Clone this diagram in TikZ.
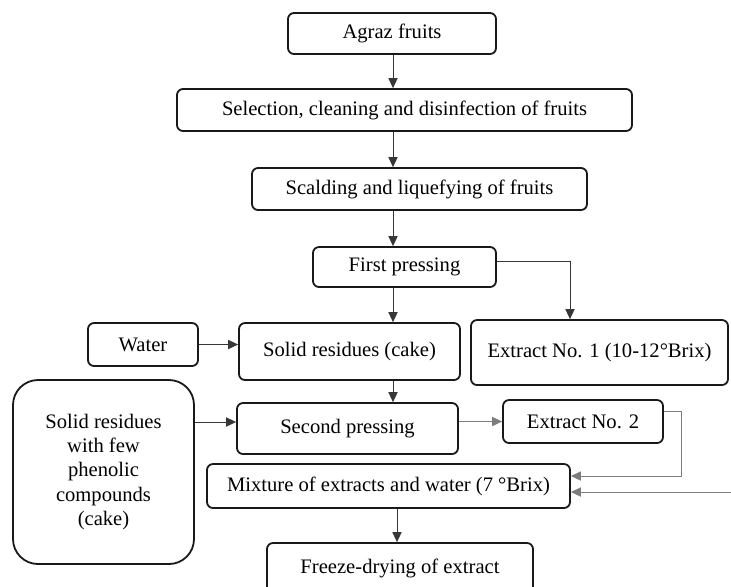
\documentclass[tikz,border=0pt]{standalone}
\definecolor{BoxLine}{RGB}{25, 25, 25}
\definecolor{LinkDark}{RGB}{55, 55, 55}
\definecolor{LinkGray}{RGB}{125, 125, 125}
\usepackage{fontspec}
\setmainfont{Liberation Serif}
\usepackage{tikz}
\usetikzlibrary{arrows.meta, positioning, calc}

\begin{document}
\begin{tikzpicture}[x=0.5pt, y=-0.5pt, font=\fontsize{10.3}{12.1}\selectfont]
        \tikzstyle{process} = [rectangle, rounded corners=3pt, draw=BoxLine, line width=0.9pt, inner sep=0pt, text centered]
        \tikzstyle{arrow} = [-{Triangle[length=5pt, width=4.6pt]}, line width=0.5pt, LinkDark]

        \useasboundingbox (0,0) rectangle (731,586);

        % Nodes
        \node (agraz) [process, minimum width=104pt, minimum height=20.5pt] at (392,33.5) {Agraz fruits};
        \node (select) [process, minimum width=227.5pt, minimum height=21pt] at (404.5,110) {Selection, cleaning and disinfection of fruits};
        \node (scald) [process, minimum width=167.5pt, minimum height=21pt] at (419.5,189) {Scalding and liquefying of fruits};
        \node (first) [process, minimum width=91.5pt, minimum height=20pt] at (404.5,267) {First pressing};
        \node (water) [process, minimum width=55pt, minimum height=21.5pt] at (143,344.5) {Water};
        \node (cake) [process, minimum width=110.5pt, minimum height=28.5pt] at (349.5,351.5) {Solid residues (cake)};
        \node (ext1) [process, minimum width=128.5pt, minimum height=32.5pt] at (599.5,352.5) {Extract No. 1 (10-12°Brix)};
        \node (phen) [process, rounded corners=12.5pt, minimum width=90.5pt, minimum height=92pt, align=center] at (103.5,472) {Solid residues\\with few\\phenolic\\compounds\\(cake)};
        \node (second) [process, minimum width=110.5pt, minimum height=25.5pt] at (347.5,428.5) {Second pressing};
        \node (ext2) [process, minimum width=80pt, minimum height=21.5pt] at (583,421.5) {Extract No. 2};
        \node (mix) [process, minimum width=181.5pt, minimum height=22pt] at (388.5,486) {Mixture of extracts and water (7 °Brix)};
        \node (freeze) [process, minimum width=133pt, minimum height=25pt] at (400,568) {Freeze-drying of extract};

        % Helper coordinates
        \coordinate (spine) at (393,0);
        \coordinate (spinelow) at (397,0);
        \coordinate (bend) at (681,476);
        \coordinate (feed) at (731,492);

        % Arrows
        \draw [arrow] (agraz.south -| spine) -- (select.north -| spine);
        \draw [arrow] (select.south -| spine) -- (scald.north -| spine);
        \draw [arrow] (scald.south -| spine) -- (first.north -| spine);
        \draw [arrow] (first.south -| spine) -- (cake.north -| spine);
        \draw [arrow] (cake.south -| spine) -- (second.north -| spine);
        \draw [arrow] ([yshift=3pt]first.east) -| ([xshift=-14.75pt]ext1.north);
        \draw [arrow] (water.east) -- (cake.west |- water.east);
        \draw [arrow] ($(phen.east |- second.west)+(0,3.25pt)$) -- ([yshift=3.25pt]second.west);
        \draw [arrow, LinkGray] (second.east |- ext2.west) -- (ext2.west);
        \draw [arrow, LinkGray] ([yshift=5pt]ext2.east) -| (bend) -- (bend -| mix.east);
        \draw [arrow, LinkGray] (feed) -- (feed -| mix.east);
        \draw [arrow] (mix.south -| spinelow) -- (freeze.north -| spinelow);
    \end{tikzpicture}
\end{document}
